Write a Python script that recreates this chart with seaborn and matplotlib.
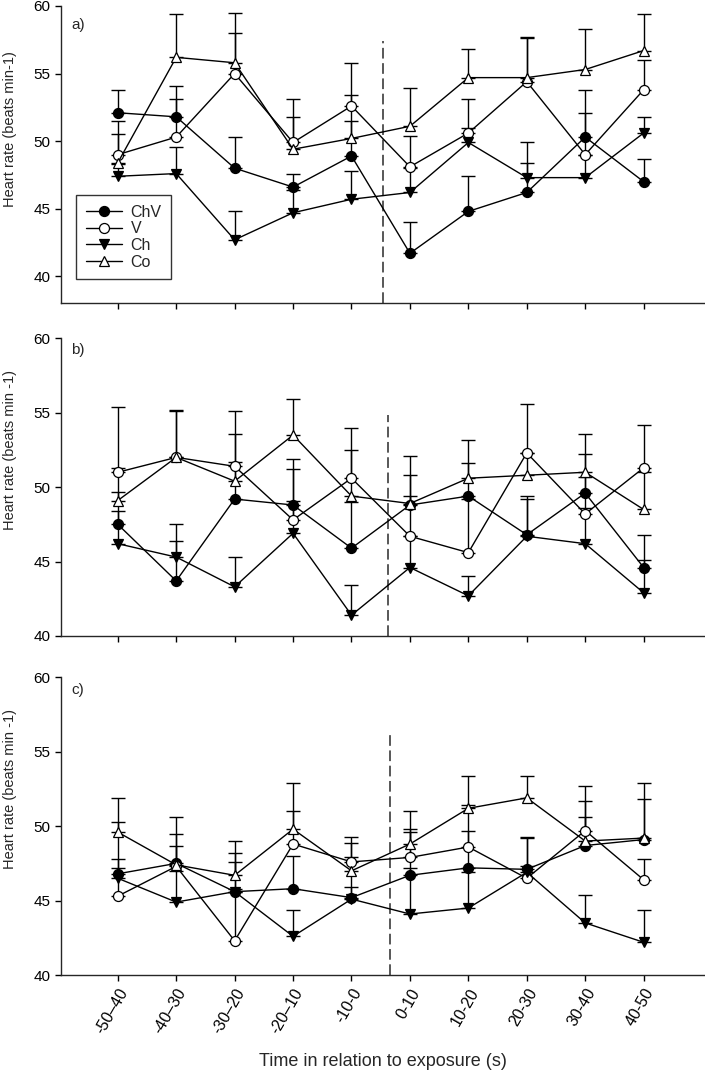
import numpy as np
import pandas as pd
import matplotlib
matplotlib.use('Agg')
import matplotlib.pyplot as plt
import seaborn as sns

# time windows (s) relative to exposure
periods = ['-50\u201340', '-40\u201330', '-30\u201320', '-20\u201310', '-10-0',
           '0-10', '10-20', '20-30', '30-40', '40-50']
groups = ['ChV', 'V', 'Ch', 'Co']

# panel a: means and top of error bar
a_chv = [52.1, 51.8, 48.0, 46.6, 48.9, 41.7, 44.8, 46.2, 50.3, 47.0]
a_chv_top = [53.8, 54.1, 50.3, 47.6, 51.5, 44.0, 47.4, 48.4, 53.8, 48.7]
a_v = [49.0, 50.3, 55.0, 49.9, 52.6, 48.1, 50.6, 54.4, 49.0, 53.8]
a_v_top = [51.5, 53.1, 58.0, 53.1, 55.8, 50.4, 53.1, 57.6, 52.1, 56.0]
a_ch = [47.4, 47.6, 42.7, 44.7, 45.7, 46.2, 49.9, 47.3, 47.3, 50.6]
a_ch_top = [48.3, 49.6, 44.8, 46.4, 47.8, 48.0, 51.0, 49.9, 49.0, 51.8]
a_co = [48.4, 56.2, 55.8, 49.4, 50.2, 51.1, 54.7, 54.7, 55.3, 56.7]
a_co_top = [50.5, 59.4, 59.5, 51.8, 53.4, 53.9, 56.8, 57.7, 58.3, 59.4]

# panel b
b_chv = [47.5, 43.7, 49.2, 48.8, 45.9, 48.8, 49.4, 46.8, 49.6, 44.6]
b_chv_top = [49.7, 46.4, 51.7, 51.2, 49.0, 50.8, 51.6, 49.4, 52.2, 46.8]
b_v = [51.0, 52.0, 51.4, 47.8, 50.6, 46.7, 45.6, 52.3, 48.2, 51.3]
b_v_top = [55.4, 55.2, 55.1, 51.9, 54.0, 49.4, 49.2, 55.6, 50.7, 54.2]
b_ch = [46.2, 45.3, 43.3, 46.9, 41.4, 44.6, 42.7, 46.7, 46.2, 42.9]
b_ch_top = [48.4, 47.5, 45.3, 49.1, 43.4, 46.7, 44.0, 49.2, 48.6, 45.1]
b_co = [49.1, 52.0, 50.4, 53.5, 49.4, 48.9, 50.6, 50.8, 51.0, 48.5]
b_co_top = [51.3, 55.1, 53.6, 55.9, 52.5, 52.1, 53.2, 52.3, 53.6, 51.0]

# panel c
c_chv = [46.8, 47.5, 45.6, 45.8, 45.2, 46.7, 47.2, 47.1, 48.7, 49.1]
c_chv_top = [50.3, 49.5, 48.2, 48.0, 47.9, 49.6, 49.7, 49.3, 50.6, 51.8]
c_v = [45.3, 47.3, 42.3, 48.8, 47.6, 47.9, 48.6, 46.5, 49.7, 46.4]
c_v_top = [47.8, 48.7, 45.8, 51.0, 49.3, 49.8, 51.4, 47.3, 52.7, 47.8]
c_ch = [46.5, 44.9, 45.6, 42.6, 45.1, 44.1, 44.5, 46.9, 43.5, 42.2]
c_ch_top = [47.2, 47.0, 47.6, 44.4, 45.9, 47.2, 46.9, 49.2, 45.4, 44.4]
c_co = [49.6, 47.4, 46.7, 49.8, 47.0, 48.8, 51.2, 51.9, 49.0, 49.2]
c_co_top = [51.9, 50.6, 49.0, 52.9, 48.9, 51.0, 53.4, 53.4, 51.7, 52.9]

sns.set_style('ticks')
plt.rcParams['font.family'] = ['Liberation Sans', 'DejaVu Sans']
plt.rcParams['axes.linewidth'] = 1.0


def make_df(series):
    rows = []
    for g, (m, top) in zip(groups, series):
        for i, p in enumerate(periods):
            rows.append({'group': g, 'pos': i, 'period': p, 'hr': m[i], 'top': top[i]})
    return pd.DataFrame(rows)


panels = [
    make_df([(a_chv, a_chv_top), (a_v, a_v_top), (a_ch, a_ch_top), (a_co, a_co_top)]),
    make_df([(b_chv, b_chv_top), (b_v, b_v_top), (b_ch, b_ch_top), (b_co, b_co_top)]),
    make_df([(c_chv, c_chv_top), (c_v, c_v_top), (c_ch, c_ch_top), (c_co, c_co_top)]),
]

styles = {'ChV': ('o', 'black'), 'V': ('o', 'white'),
          'Ch': ('v', 'black'), 'Co': ('^', 'white')}

fig = plt.figure(figsize=(7.05, 10.71), dpi=100)
boxes = [[0.087, 0.7168, 0.913, 0.2776],
         [0.087, 0.4062, 0.913, 0.2779],
         [0.087, 0.0896, 0.913, 0.2780]]
ylows = [38, 40, 40]
letters = ['a)', 'b)', 'c)']
letter_y = [0.96, 0.985, 0.982]
ylabels = ['Heart rate (beats min-1)', 'Heart rate (beats min -1)', 'Heart rate (beats min -1)']
label_y = [0.585, 0.625, 0.625]
dash_x = [4.54, 4.62, 4.66]
dash_top = [57.4, 54.85, 56.1]

for k, df in enumerate(panels):
    ax = fig.add_axes(boxes[k])
    for g in groups:
        sub = df[df['group'] == g]
        ax.errorbar(sub['pos'], sub['hr'], yerr=[np.zeros(len(sub)), sub['top'] - sub['hr']],
                    fmt='none', ecolor='black', elinewidth=1, capsize=4.7, capthick=1, zorder=1.8)
        m, fc = styles[g]
        sns.lineplot(data=sub, x='pos', y='hr', ax=ax, color='black', linewidth=1,
                     marker=m, markersize=7.2, markerfacecolor=fc, markeredgecolor='black',
                     markeredgewidth=0.9, label=g, legend=False, errorbar=None, sort=False)
    ax.plot([dash_x[k], dash_x[k]], [ylows[k], dash_top[k]], color='#2a2a2a',
            linewidth=1.1, linestyle=(0, (7, 3)), zorder=1)
    ax.set_xlim(-0.966, 10.05)
    ax.set_ylim(ylows[k], 60)
    ax.set_yticks([40, 45, 50, 55, 60])
    ax.set_xticks(range(len(periods)))
    ax.tick_params(axis='both', direction='out', length=4.3, width=1, labelsize=11, colors='black')
    if k == 2:
        ax.set_xticklabels(periods, rotation=60, ha='right', rotation_mode='anchor', fontsize=11.5)
        ax.set_xlabel('Time in relation to exposure (s)', fontsize=13, labelpad=12)
    else:
        ax.set_xticklabels([])
        ax.set_xlabel('')
    ax.set_ylabel(ylabels[k], fontsize=10.5)
    ax.yaxis.set_label_coords(-0.069, label_y[k])
    ax.text(0.0156, letter_y[k], letters[k], transform=ax.transAxes, ha='left', va='top', fontsize=11)
    sns.despine(ax=ax)
    if k == 0:
        leg = ax.legend(loc='lower left', bbox_to_anchor=(0.023, 0.081), borderaxespad=0,
                        frameon=True, fancybox=False, edgecolor='black', fontsize=11.5,
                        handlelength=2.3, labelspacing=0.1, borderpad=0.6, handletextpad=0.5)
        leg.get_frame().set_linewidth(1)

fig.savefig('out.png', dpi=100)
